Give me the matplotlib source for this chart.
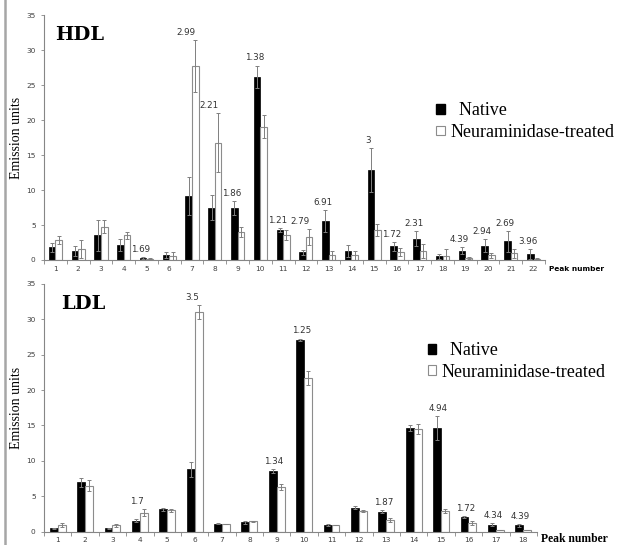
import numpy as np
import matplotlib.pyplot as plt
from matplotlib.patches import Patch
from matplotlib.lines import Line2D

# HDL panel values (peaks 1..22)
hdl_native = [1.8, 1.25, 3.5, 2.15, 0.3, 0.7, 9.15, 7.5, 7.4, 26.2, 4.25, 1.1,
              5.6, 1.25, 12.85, 1.95, 3.05, 0.5, 1.35, 2.05, 2.65, 0.85]
hdl_native_err = [0.6, 0.75, 2.15, 0.8, 0.1, 0.4, 2.7, 1.8, 1.0, 1.6, 0.3, 0.35,
                  1.55, 0.85, 3.15, 0.6, 1.1, 0.3, 0.5, 0.95, 1.5, 0.65]
hdl_treated = [2.85, 1.55, 4.75, 3.5, 0.2, 0.5, 27.7, 16.8, 3.95, 19.05, 3.55, 3.25,
               0.65, 0.65, 4.25, 1.1, 1.3, 0.5, 0.3, 0.65, 0.95, 0.2]
hdl_treated_err = [0.55, 1.3, 0.9, 0.5, 0.1, 0.6, 3.7, 4.2, 0.7, 1.65, 0.7, 1.15,
                   0.6, 0.6, 0.85, 0.55, 0.95, 1.0, 0.1, 0.3, 0.6, 0.1]
hdl_label_peaks = [5, 7, 8, 9, 10, 11, 12, 13, 15, 16, 17, 19, 20, 21, 22]
hdl_label_text = ["1.69", "2.99", "2.21", "1.86", "1.38", "1.21", "2.79", "6.91",
                  "3", "1.72", "2.31", "4.39", "2.94", "2.69", "3.96"]

# LDL panel values (peaks 1..18)
ldl_native = [0.5, 6.95, 0.5, 1.55, 3.15, 8.8, 1.15, 1.3, 8.55, 27.05, 0.95, 3.4,
              2.85, 14.6, 14.6, 2.1, 1.0, 0.9]
ldl_native_err = [0.05, 0.6, 0.05, 0.25, 0.2, 1.1, 0.1, 0.2, 0.3, 0.2, 0.1, 0.25,
                  0.25, 0.4, 1.7, 0.1, 0.25, 0.2]
ldl_treated = [0.9, 6.5, 0.9, 2.7, 3.05, 31.0, 1.1, 1.45, 6.3, 21.75, 0.95, 2.95,
               1.6, 14.5, 2.95, 1.25, 0.25, 0.25]
ldl_treated_err = [0.3, 0.8, 0.25, 0.45, 0.2, 1.0, 0.05, 0.1, 0.45, 1.0, 0.05, 0.15,
                   0.3, 0.75, 0.3, 0.3, 0.05, 0.05]
ldl_label_peaks = [4, 6, 9, 10, 13, 15, 16, 17, 18]
ldl_label_text = ["1.7", "3.5", "1.34", "1.25", "1.87", "4.94", "1.72", "4.34", "4.39"]

SERIF = 'Liberation Serif'
GRAY = '#868686'


def draw_panel(ax, native, native_err, treated, treated_err, peaks, texts,
               title, title_x, lab_dx):
    n = len(native)
    x = np.arange(1, n + 1)
    w = 0.29
    ekw = dict(ecolor='#7f7f7f', elinewidth=0.7, capsize=1.6, capthick=0.7)
    ax.bar(x - w / 2, native, w, color='black', edgecolor='black', linewidth=0.5,
           yerr=native_err, error_kw=ekw)
    ax.bar(x + w / 2, treated, w, color='white', edgecolor='#8c8c8c', linewidth=0.8,
           yerr=treated_err, error_kw=ekw)

    # value labels above each group
    for p, t in zip(peaks, texts):
        i = p - 1
        top = max(native[i] + native_err[i], treated[i] + treated_err[i])
        ax.text(p + lab_dx, top + 0.45, t, ha='center', va='bottom',
                fontsize=6.3, color='#333333', family='DejaVu Sans')

    ax.set_xlim(0.5, n + 0.5)
    ax.set_ylim(0, 35)
    ax.set_yticks(range(0, 36, 5))
    ax.set_xticks(x)
    ax.set_xticks(np.arange(0.5, n + 1, 1), minor=True)
    ax.tick_params(axis='x', which='major', length=0, labelsize=5.3,
                   labelcolor='#404040', pad=4)
    ax.tick_params(axis='x', which='minor', length=3, color=GRAY, width=0.6)
    ax.tick_params(axis='y', length=2.5, color=GRAY, width=0.6, labelsize=5.3,
                   labelcolor='#404040', pad=3.5)
    for s in ['top', 'right']:
        ax.spines[s].set_visible(False)
    for s in ['left', 'bottom']:
        ax.spines[s].set_color(GRAY)
        ax.spines[s].set_linewidth(0.8)
    ax.set_ylabel('Emission units', family=SERIF, fontsize=10)
    ax.yaxis.set_label_coords(-21 / (ax.get_position().width * 620), 0.5)
    ax.text(title_x, 0.955, title, transform=ax.transAxes, family='DejaVu Serif',
            fontweight='bold', fontsize=14, va='top', ha='left')


fig = plt.figure(figsize=(6.2, 5.45), dpi=100)

ax1 = fig.add_axes([0.071, 0.523, 0.808, 0.449])
draw_panel(ax1, hdl_native, hdl_native_err, hdl_treated, hdl_treated_err,
           hdl_label_peaks, hdl_label_text, 'HDL', 0.023, -0.25)
ax1.text(1.008, -0.025, 'Peak number', transform=ax1.transAxes, fontsize=5.3,
         fontweight='bold', va='top', ha='left', family='DejaVu Sans')

ax2 = fig.add_axes([0.071, 0.0244, 0.795, 0.455])
draw_panel(ax2, ldl_native, ldl_native_err, ldl_treated, ldl_treated_err,
           ldl_label_peaks, ldl_label_text, 'LDL', 0.035, -0.1)
ax2.text(1.008, -0.004, 'Peak number', transform=ax2.transAxes, fontsize=8.4,
         fontweight='bold', va='top', ha='left', family=SERIF)

handles = [Patch(facecolor='black', edgecolor='black'),
           Patch(facecolor='white', edgecolor='#8c8c8c', linewidth=0.8)]
labels = ['  Native', 'Neuraminidase-treated']
for ax, anchor in [(ax1, (0.704, 0.812)), (ax2, (0.690, 0.372))]:
    ax.legend(handles, labels, loc='upper left', bbox_to_anchor=anchor,
              bbox_transform=fig.transFigure, frameon=False,
              prop={'family': SERIF, 'size': 13}, handlelength=0.45,
              handleheight=0.45, handletextpad=0.3, labelspacing=0.25,
              borderaxespad=0, borderpad=0)

# gray frame line on the left edge
fig.add_artist(Line2D([0.008, 0.008], [0, 1], transform=fig.transFigure,
                      color='#a6a6a6', linewidth=1.8))

fig.savefig('out.png', dpi=100)
